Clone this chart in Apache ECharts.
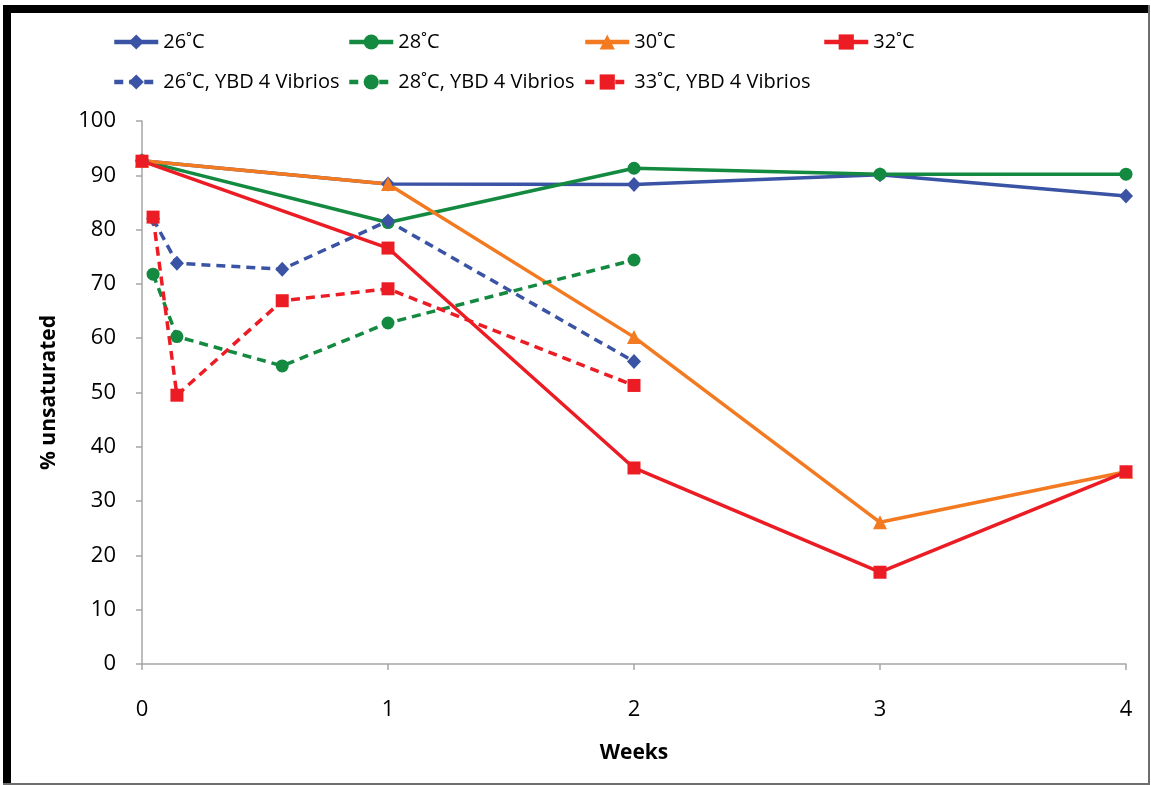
<!DOCTYPE html>
<html>
<head>
<meta charset="utf-8">
<script src="https://cdn.jsdelivr.net/npm/echarts@6/dist/echarts.min.js"></script>
<style>
html,body{margin:0;padding:0;background:#fff;}
#chart{width:1151px;height:785px;}
</style>
</head>
<body>
<div id="chart"></div>
<script>
// ---- data ----
const weeks = [0, 1, 2, 3, 4];
const t26 = [92.7, 88.4, 88.3, 90.1, 86.2];
const t28 = [92.7, 81.3, 91.3, 90.2, 90.2];
const t30 = [92.7, 88.4, 60.2, 26.1, 35.4];
const t32 = [92.6, 76.6, 36.1, 16.9, 35.4];
const weeksYBD = [0.045, 0.142, 0.57, 1, 2];
const y26 = [82.0, 73.8, 72.7, 81.6, 55.7];
const y28 = [71.8, 60.3, 54.9, 62.8, 74.4];
const y33 = [82.3, 49.5, 66.9, 69.1, 51.3];
const seriesNames = ['26˚C', '28˚C', '30˚C', '32˚C', '26˚C, YBD 4 Vibrios', '28˚C, YBD 4 Vibrios', '33˚C, YBD 4 Vibrios'];
const yTicks = [0, 10, 20, 30, 40, 50, 60, 70, 80, 90, 100];
const xTicks = [0, 1, 2, 3, 4];

const BLUE = '#3A53A4', GREEN = '#138A3F', ORANGE = '#F37A21', RED = '#EC1C24';
const FONT = 'Open Sans';

function zip(xs, ys) { return xs.map((x, i) => [x, ys[i]]); }

function mk(name, xs, ys, color, symbol, size, dashed) {
  return {
    name: name, type: 'line', data: zip(xs, ys),
    symbol: symbol, symbolSize: size,
    itemStyle: { color: color },
    lineStyle: { color: color, width: 3.5, type: dashed ? [9, 6] : 'solid' },
    emphasis: { disabled: true },
    animation: false
  };
}

const series = [
  mk(seriesNames[0], weeks, t26, BLUE, 'diamond', [14, 15], false),
  mk(seriesNames[1], weeks, t28, GREEN, 'circle', 13, false),
  mk(seriesNames[2], weeks, t30, ORANGE, 'triangle', 14, false),
  mk(seriesNames[3], weeks, t32, RED, 'rect', 13, false),
  mk(seriesNames[4], weeksYBD, y26, BLUE, 'diamond', [14, 15], true),
  mk(seriesNames[5], weeksYBD, y28, GREEN, 'circle', 13, true),
  mk(seriesNames[6], weeksYBD, y33, RED, 'rect', 13, true)
];

const legendPos = [
  [112, 32], [347, 32], [583, 32], [822, 32],
  [112, 72], [347, 72], [583, 72]
];
const legends = seriesNames.map((n, i) => ({
  data: [n], left: legendPos[i][0], top: legendPos[i][1],
  itemWidth: 44, itemHeight: 19, itemGap: 0, padding: 0,
  selectedMode: false,
  lineStyle: { width: 4.5 },
  textStyle: { fontFamily: FONT, fontSize: 20, color: '#000' }
}));

const chart = echarts.init(document.getElementById('chart'), null, { renderer: 'canvas' });
chart.setOption({
  backgroundColor: '#fff',
  animation: false,
  legend: legends,
  grid: { left: 142, right: 25, top: 121, bottom: 121 },
  xAxis: {
    type: 'value', min: xTicks[0], max: xTicks[xTicks.length - 1], interval: 1,
    name: 'Weeks', nameLocation: 'middle', nameGap: 79,
    nameTextStyle: { fontFamily: FONT, fontSize: 21, fontWeight: 'bold', color: '#000' },
    axisLine: { lineStyle: { color: '#A6A6A6', width: 1.5 } },
    axisTick: { show: true, length: 6, lineStyle: { color: '#A6A6A6', width: 1.5 } },
    axisLabel: { margin: 35, fontFamily: FONT, fontSize: 22, color: '#000' },
    splitLine: { show: false }
  },
  yAxis: {
    type: 'value', min: yTicks[0], max: yTicks[yTicks.length - 1], interval: 10,
    name: '% unsaturated', nameLocation: 'middle', nameGap: 82, nameRotate: 90,
    nameTextStyle: { fontFamily: FONT, fontSize: 21, fontWeight: 'bold', color: '#000' },
    axisLine: { show: true, lineStyle: { color: '#A6A6A6', width: 1.5 } },
    axisTick: { show: true, length: 6, lineStyle: { color: '#A6A6A6', width: 1.5 } },
    axisLabel: { margin: 26, fontFamily: FONT, fontSize: 22, color: '#000' },
    splitLine: { show: false }
  },
  graphic: [
    { type: 'rect', shape: { x: 3, y: 5, width: 1147, height: 8 }, style: { fill: '#000' }, silent: true },
    { type: 'rect', shape: { x: 3, y: 5, width: 8, height: 780 }, style: { fill: '#000' }, silent: true },
    { type: 'rect', shape: { x: 1148, y: 5, width: 2, height: 780 }, style: { fill: '#6e6e6e' }, silent: true },
    { type: 'rect', shape: { x: 3, y: 783, width: 1147, height: 2 }, style: { fill: '#6e6e6e' }, silent: true }
  ],
  series: series
});
</script>
</body>
</html>
